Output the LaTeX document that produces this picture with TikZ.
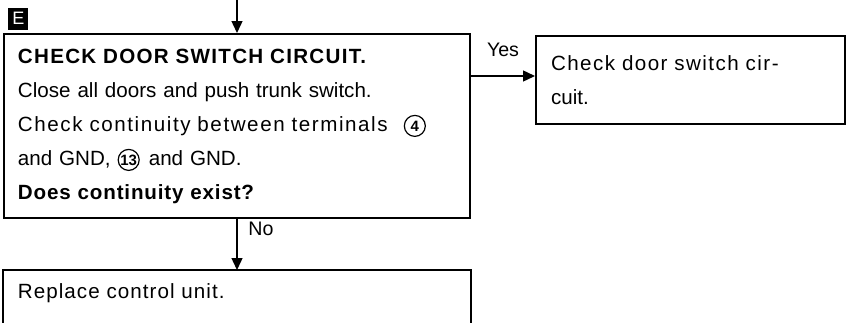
\documentclass[tikz,border=0pt]{standalone}
\usepackage{fontspec}
\setmainfont{Liberation Sans}
\usetikzlibrary{arrows.meta, positioning}

\newcommand{\cnum}[1]{\tikz[baseline=(cn.base)]\node[circle, draw=black, line width=0.6pt, inner sep=0pt, minimum size=10.5pt, font=\fontsize{7.5}{8}\selectfont\bfseries] (cn) {#1};}
\newcommand{\spaced}[2]{{\addfontfeature{LetterSpace=#1}#2}}

\begin{document}
\begin{tikzpicture}[
    blk/.style={rectangle, draw=black, line width=1pt, font=\fontsize{10.3}{17}\selectfont, align=left, inner xsep=7pt},
    tag/.style={rectangle, fill=black, text=white, font=\fontsize{9}{9}\selectfont, minimum width=10pt, minimum height=11pt, inner sep=0pt},
    e/.style={-{Triangle[length=6pt, width=5.5pt]}, line width=0.7pt},
    lab/.style={font=\fontsize{9.8}{10}\selectfont},
]
    \useasboundingbox (0,0) rectangle (425.5pt,-161pt);
    \node[blk, anchor=north west, text width=219pt, minimum height=92pt] (chk) at (1.5pt,-16.5pt) {\textbf{\spaced{6.2}{CHECK DOOR SWITCH CIRCUIT.}}\\Close all doors and push trunk switch.\\\spaced{7.6}{Check continuity between terminals}\hspace{8pt}\cnum{4}\\and GND, \cnum{13}\hspace{4.5pt}and GND.\\\textbf{\spaced{4}{Does continuity exist?}}};
    \node[blk, right=32pt of chk.north east, anchor=north west, yshift=-1pt, text width=139.5pt, inner xsep=7.5pt, minimum height=44pt] (cdr) {\spaced{7}{Check door switch cir-}\\cuit.};
    \node[blk, draw=none, below=25.5pt of chk, text width=219pt, inner ysep=6pt, text height=7.5pt, text depth=7.5pt] (rpl) {\spaced{5}{Replace control unit.}};
    \node[tag, above right=1.5pt and 2.5pt of chk.north west] (tagE) {E};
    \coordinate (src) at ([yshift=16.5pt]chk.north);
    \coordinate (yin) at ([yshift=2pt]cdr.west);
    \draw[line width=1pt] (rpl.south west) |- (rpl.north east) -- (rpl.south east);
    \draw[e] (src) -- (chk.north);
    \draw[e] (chk.east |- yin) -- node[lab, above=6pt] (yes) {Yes} (yin);
    \draw[e] (chk.south) -- node[lab, pos=0.2, right=2pt] (no) {No} (rpl.north);
\end{tikzpicture}
\end{document}
